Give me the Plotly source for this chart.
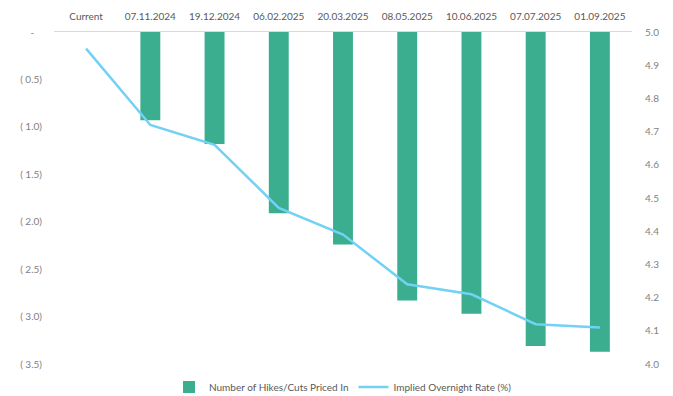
import plotly.graph_objects as go

# Meeting dates and market pricing
dates = ["Current", "07.11.2024", "19.12.2024", "06.02.2025", "20.03.2025",
         "08.05.2025", "10.06.2025", "07.07.2025", "01.09.2025"]
hikes_cuts = [0.0, -0.93, -1.18, -1.91, -2.24, -2.83, -2.97, -3.31, -3.37]
overnight_rate = [4.95, 4.72, 4.66, 4.47, 4.39, 4.24, 4.21, 4.12, 4.11]

left_ticks = [0, -0.5, -1.0, -1.5, -2.0, -2.5, -3.0, -3.5]
left_labels = ["-   ", "( 0.5)", "( 1.0)", "( 1.5)", "( 2.0)", "( 2.5)", "( 3.0)", "( 3.5)"]
right_ticks = [5.0, 4.9, 4.8, 4.7, 4.6, 4.5, 4.4, 4.3, 4.2, 4.1, 4.0]

fig = go.Figure()
fig.add_trace(go.Bar(
    x=dates, y=hikes_cuts, name="Number of Hikes/Cuts Priced In",
    marker=dict(color="#3aae8e", line=dict(width=0)), width=0.31,
))
fig.add_trace(go.Scatter(
    x=dates, y=overnight_rate, name="Implied Overnight Rate (%)", yaxis="y2",
    mode="lines", line=dict(color="#72d1f4", width=2.5),
))

fig.update_layout(
    width=673, height=396,
    margin=dict(l=54, r=41, t=32, b=32, autoexpand=False),
    paper_bgcolor="white", plot_bgcolor="white",
    font=dict(family="Lato, Open Sans, sans-serif", size=10, color="#7f7f7f"),
    showlegend=True,
    legend=dict(orientation="h", x=0.5, xanchor="center",
                yref="container", y=0.023, yanchor="middle",
                font=dict(size=10, color="#595959"), traceorder="normal",
                itemwidth=30),
    xaxis=dict(side="top", showline=True, linecolor="#d9d9d9", linewidth=1,
               ticks="", showgrid=False, tickfont=dict(size=10, color="#595959"),
               ticklabelstandoff=7),
    yaxis=dict(range=[-3.5, 0], tickvals=left_ticks, ticktext=left_labels,
               showgrid=False, zeroline=False, showline=False, ticks="",
               ticklabelstandoff=11),
    yaxis2=dict(range=[4.0, 5.0], tickvals=right_ticks,
                ticktext=[f"{v:.1f}" for v in right_ticks],
                overlaying="y", side="right", showgrid=False, zeroline=False,
                showline=False, ticks="", ticklabelstandoff=12),
)

fig.write_html("out.html")
